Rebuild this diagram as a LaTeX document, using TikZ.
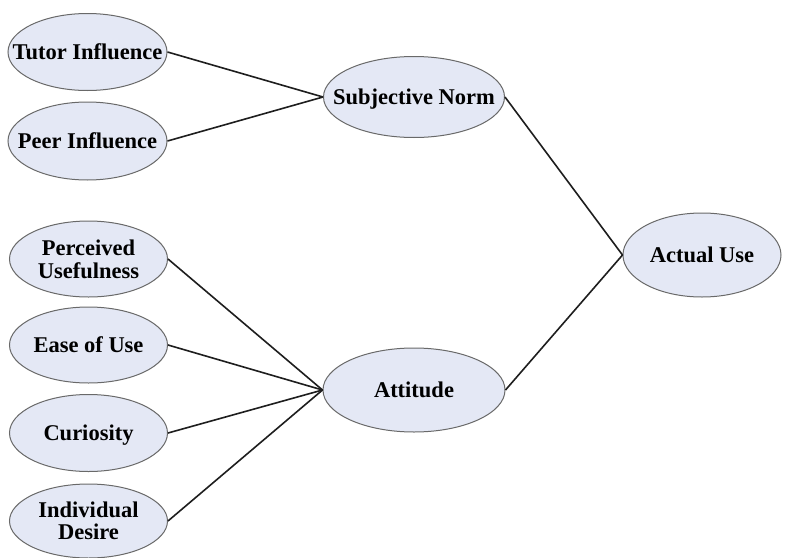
\documentclass[tikz,border=0pt]{standalone}
\usepackage{fontspec}
\setmainfont{Liberation Serif}
\usetikzlibrary{shapes.geometric}
\definecolor{ellfill}{RGB}{228,232,245}
\definecolor{ellline}{RGB}{105,105,105}
\definecolor{linkcol}{RGB}{30,30,30}
\newcommand{\ovaltext}[1]{\makebox[0pt][c]{\raisebox{-8.5pt}[0pt][0pt]{\begin{tabular}{@{}c@{}}#1\end{tabular}}}}
\begin{document}
\begin{tikzpicture}[x=1pt,y=-1pt,
  oval/.style={ellipse, draw=ellline, line width=1pt, fill=ellfill, inner sep=0pt,
    font=\fontsize{22.5}{22}\selectfont\bfseries},
  link/.style={draw=linkcol, line width=1.6pt}]
\fill[white] (0,0) rectangle (798,557);
\useasboundingbox (0,0) rectangle (798,557);
\node[oval, minimum width=159pt, minimum height=77pt] (ti) at (87.5,52) {\ovaltext{Tutor Influence}};
\node[oval, minimum width=159pt, minimum height=78pt] (pi) at (87.5,141) {\ovaltext{Peer Influence}};
\node[oval, minimum width=158pt, minimum height=76pt] (pu) at (88.5,259) {\ovaltext{Perceived\\Usefulness}};
\node[oval, minimum width=158pt, minimum height=76pt] (eu) at (88.5,345) {\ovaltext{Ease of Use}};
\node[oval, minimum width=158pt, minimum height=77pt] (cu) at (88.5,433) {\ovaltext{Curiosity}};
\node[oval, minimum width=158pt, minimum height=74pt] (id) at (88.5,521) {\ovaltext{Individual\\Desire}};
\node[oval, minimum width=181pt, minimum height=81pt] (sn) at (414,97) {\ovaltext{Subjective Norm}};
\node[oval, minimum width=182pt, minimum height=84pt] (at) at (414,390) {\ovaltext{Attitude}};
\node[oval, minimum width=158pt, minimum height=84pt] (au) at (702,255) {\ovaltext{Actual Use}};
\draw[link] (ti.east) -- (sn.west);
\draw[link] (pi.east) -- (sn.west);
\draw[link] (pu.east) -- (at.west);
\draw[link] (eu.east) -- (at.west);
\draw[link] (cu.east) -- (at.west);
\draw[link] (id.east) -- (at.west);
\draw[link] (sn.east) -- (au.west);
\draw[link] (at.east) -- (au.west);
\end{tikzpicture}
\end{document}
